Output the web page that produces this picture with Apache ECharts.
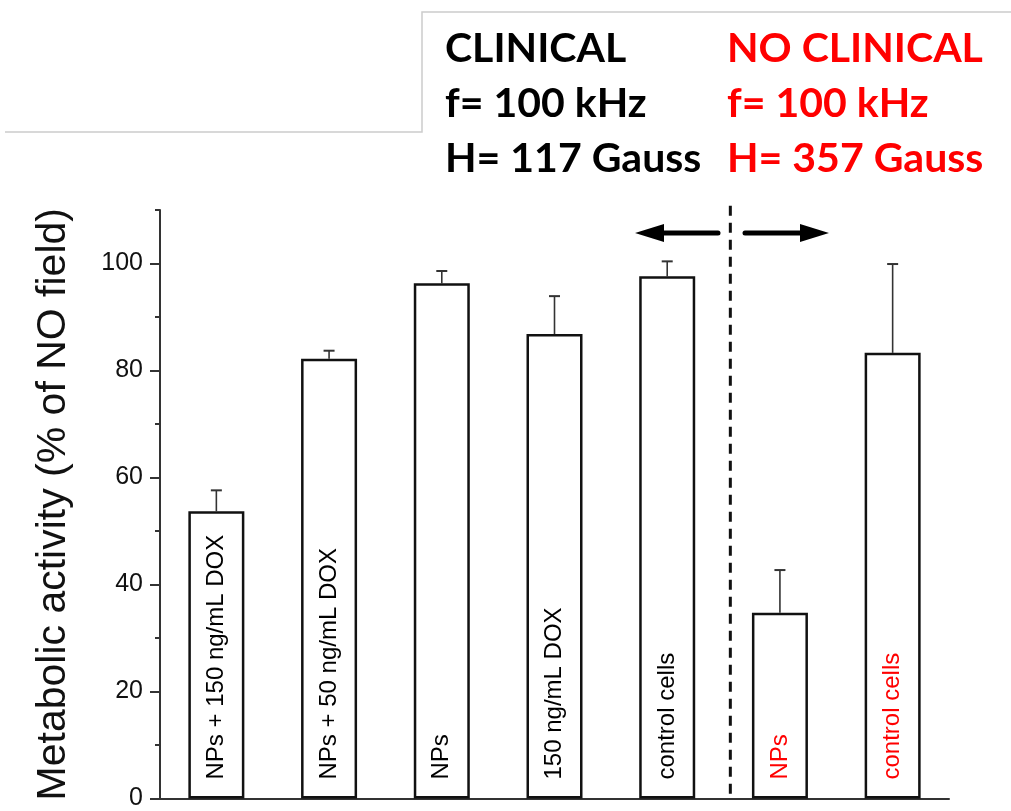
<!DOCTYPE html>
<html>
<head>
<meta charset="utf-8">
<script src="https://cdn.jsdelivr.net/npm/echarts@6/dist/echarts.min.js"></script>
<style>
html,body{margin:0;padding:0;background:#fff;}
#chart{width:1011px;height:811px;}
</style>
</head>
<body>
<div id="chart"></div>
<script>
// ---- data ----
const categories = ['NPs + 150 ng/mL DOX', 'NPs + 50 ng/mL DOX', 'NPs', '150 ng/mL DOX', 'control cells', 'NPs', 'control cells'];
const groupColors = ['#000000', '#000000', '#000000', '#000000', '#000000', '#ff0000', '#ff0000'];
const positions = [1, 2, 3, 4, 5, 6, 7];
const values = [53.7, 82.2, 96.3, 86.8, 97.6, 34.7, 83.3];
const errUpper = [57.6, 83.7, 98.6, 93.9, 100.4, 42.7, 99.9];
const yTicks = [0, 20, 40, 60, 80, 100];
const divider = [5.56, 0.9, 111];
const clinicalLines = ['CLINICAL', 'f= 100 kHz', 'H= 117 Gauss'];
const noClinicalLines = ['NO CLINICAL', 'f= 100 kHz', 'H= 357 Gauss'];
const yTitle = 'Metabolic activity (% of NO field)';

const chart = echarts.init(document.getElementById('chart'), null, {renderer: 'canvas'});

const barData = positions.map((p, i) => ({
  value: [p, values[i]],
  label: {color: groupColors[i]}
}));
const errData = positions.map((p, i) => [p, values[i], errUpper[i]]);

const axisColor = '#333333';
const font = '"Liberation Sans", Arial, sans-serif';

const option = {
  animation: false,
  backgroundColor: '#ffffff',
  grid: {left: 160, right: 62, top: 210, bottom: 11, containLabel: false},
  xAxis: {
    type: 'value', min: 0.5, max: 7.5,
    axisLine: {show: true, onZero: false, lineStyle: {color: axisColor, width: 2}},
    axisTick: {show: false}, axisLabel: {show: false}, splitLine: {show: false}
  },
  yAxis: [{
    type: 'value', min: 0, max: 110, interval: 20,
    axisLine: {show: true, lineStyle: {color: axisColor, width: 2}},
    axisTick: {show: true, inside: false, length: 10, lineStyle: {color: axisColor, width: 2},
      customValues: yTicks},
    axisLabel: {show: true, fontSize: 25, color: '#111', fontFamily: font, margin: 17,
      customValues: yTicks},
    splitLine: {show: false},
    name: yTitle, nameLocation: 'middle', nameGap: 86, nameRotate: 90,
    nameTextStyle: {fontSize: 41, color: '#111', fontFamily: font}
  }, {
    type: 'value', min: 0, max: 110, interval: 10, position: 'left',
    axisLine: {show: false},
    axisTick: {show: true, inside: false, length: 5, lineStyle: {color: axisColor, width: 2}},
    axisLabel: {show: false}, splitLine: {show: false}
  }],
  series: [{
    type: 'bar',
    yAxisIndex: 0,
    barWidth: 56,
    data: barData,
    itemStyle: {color: '#ffffff', borderColor: '#111111', borderWidth: 2.5},
    label: {
      show: true, position: 'insideBottom', rotate: 90, align: 'left', verticalAlign: 'middle',
      distance: 19, fontSize: 24, fontFamily: font,
      formatter: (p) => categories[p.dataIndex]
    }
  }, {
    type: 'custom',
    yAxisIndex: 0,
    data: errData,
    z: 1,
    renderItem: function (params, api) {
      const base = api.coord([api.value(0), api.value(1)]);
      const top = api.coord([api.value(0), api.value(2)]);
      const hw = 5.5;
      return {
        type: 'group',
        children: [
          {type: 'line', shape: {x1: base[0], y1: base[1], x2: top[0], y2: top[1]},
            style: {stroke: '#333', lineWidth: 1.6}},
          {type: 'line', shape: {x1: top[0] - hw, y1: top[1], x2: top[0] + hw, y2: top[1]},
            style: {stroke: '#333', lineWidth: 2}}
        ]
      };
    }
  }, {
    type: 'custom',
    yAxisIndex: 0,
    data: [divider],
    z: 3,
    renderItem: function (params, api) {
      const a = api.coord([api.value(0), api.value(1)]);
      const b = api.coord([api.value(0), api.value(2)]);
      return {
        type: 'line', shape: {x1: a[0], y1: a[1], x2: b[0], y2: b[1]},
        style: {stroke: '#111', lineWidth: 3, lineDash: [10, 7]}
      };
    }
  }],
  graphic: [
    // slide frame remnants
    {type: 'polyline', shape: {points: [[5, 132], [422, 132], [422, 12], [1011, 12]]},
      style: {stroke: '#cccccc', lineWidth: 1.5, fill: null}},
    // header texts
    ...clinicalLines.map((t, i) => ({
      type: 'text', left: 445, top: 28 + i * 55,
      style: {text: t, fill: '#000', font: 'bold 41px Lato, "Open Sans", sans-serif'}
    })),
    ...noClinicalLines.map((t, i) => ({
      type: 'text', left: 727, top: 28 + i * 55,
      style: {text: t, fill: '#ff0000', font: 'bold 41px Lato, "Open Sans", sans-serif'}
    })),
    // arrows
    {type: 'line', shape: {x1: 660, y1: 233, x2: 718, y2: 233},
      style: {stroke: '#000', lineWidth: 5, lineCap: 'round'}},
    {type: 'polygon', shape: {points: [[635, 233], [664, 224], [664, 242]]}, style: {fill: '#000'}},
    {type: 'line', shape: {x1: 745, y1: 233, x2: 803, y2: 233},
      style: {stroke: '#000', lineWidth: 5, lineCap: 'round'}},
    {type: 'polygon', shape: {points: [[829, 233], [800, 224], [800, 242]]}, style: {fill: '#000'}}
  ]
};
chart.setOption(option);
</script>
</body>
</html>
